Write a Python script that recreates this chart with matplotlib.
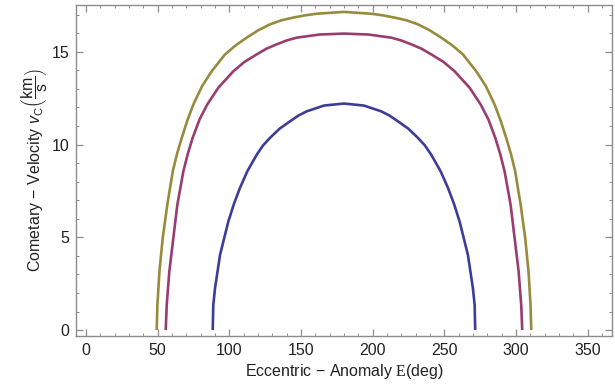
import numpy as np
import matplotlib.pyplot as plt
from matplotlib.ticker import MultipleLocator

# Eccentric anomaly (deg) and comet velocity (km/s)
E_blue = [88.4, 88.8, 90.0, 93.5, 99.3, 103.2, 107.4, 112.5, 119.1, 123.5,
          128.4, 135.0, 142.3, 148.0, 154.0, 166.0, 180.0, 194.0, 206.0,
          212.0, 217.7, 225.0, 231.6, 236.5, 240.9, 247.5, 252.6, 256.8,
          260.7, 266.5, 270.0, 271.2, 271.6]
v_blue = [0.0, 1.35, 2.25, 4.05, 5.85, 6.80, 7.66, 8.55, 9.45, 9.95,
          10.36, 10.85, 11.25, 11.55, 11.79, 12.10, 12.21, 12.10, 11.79,
          11.55, 11.25, 10.85, 10.36, 9.95, 9.45, 8.55, 7.66, 6.80,
          5.85, 4.05, 2.25, 1.35, 0.0]

E_magenta = [55.6, 56.3, 58.1, 60.9, 63.7, 67.9, 71.0, 74.4, 79.2, 84.6,
             92.3, 102.8, 110.5, 119.1, 126.0, 133.0, 140.0, 147.0, 163.0,
             180.0, 197.0, 213.0, 220.0, 227.0, 234.0, 240.9, 249.5, 257.2,
             267.7, 275.4, 280.8, 285.6, 289.0, 292.1, 296.3, 299.1, 301.9,
             303.7, 304.4]
v_magenta = [0.0, 1.35, 3.15, 4.95, 6.75, 8.55, 9.50, 10.36, 11.35, 12.16,
             13.06, 13.95, 14.45, 14.86, 15.17, 15.40, 15.61, 15.76, 15.93,
             15.98, 15.93, 15.76, 15.61, 15.40, 15.17, 14.86, 14.45, 13.95,
             13.06, 12.16, 11.35, 10.36, 9.50, 8.55, 6.75, 4.95, 3.15,
             1.35, 0.0]

E_gold = [49.3, 49.8, 51.2, 53.5, 56.7, 60.5, 63.5, 66.8, 70.7, 74.9, 81.0,
          87.7, 97.0, 104.5, 112.1, 120.0, 128.4, 136.5, 144.6, 152.5,
          161.0, 180.0, 199.0, 207.5, 215.4, 223.5, 231.6, 240.0, 247.9,
          255.5, 263.0, 272.3, 279.0, 285.1, 289.3, 293.2, 296.5, 299.5,
          303.3, 306.5, 308.8, 310.2, 310.7]
v_gold = [0.0, 1.35, 3.15, 4.95, 6.75, 8.55, 9.50, 10.36, 11.30, 12.16, 13.15,
          13.95, 14.86, 15.35, 15.76, 16.15, 16.48, 16.70, 16.84, 16.96,
          17.05, 17.15, 17.05, 16.96, 16.84, 16.70, 16.48, 16.15, 15.76,
          15.35, 14.86, 13.95, 13.15, 12.16, 11.30, 10.36, 9.50, 8.55,
          6.75, 4.95, 3.15, 1.35, 0.0]

colors = ['#3d3d99', '#993d71', '#998b3d']

plt.rcParams['font.family'] = 'Liberation Sans'
plt.rcParams['mathtext.fontset'] = 'custom'
plt.rcParams['mathtext.rm'] = 'Liberation Sans'
plt.rcParams['mathtext.it'] = 'Liberation Sans:italic'
plt.rcParams['mathtext.sf'] = 'Liberation Serif'

fig = plt.figure(figsize=(6.15, 3.86), dpi=100)
ax = fig.add_axes([0.1236, 0.130, 0.8714, 0.857])

for E, v, c in zip([E_blue, E_magenta, E_gold], [v_blue, v_magenta, v_gold], colors):
    ax.plot(E, v, color=c, lw=1.9, solid_capstyle='butt', solid_joinstyle='round')

ax.set_xlim(-7, 367)
ax.set_ylim(-0.31, 17.52)

ax.xaxis.set_major_locator(MultipleLocator(50))
ax.xaxis.set_minor_locator(MultipleLocator(10))
ax.yaxis.set_major_locator(MultipleLocator(5))
ax.yaxis.set_minor_locator(MultipleLocator(1))

frame = '#8c8c8c'
for s in ax.spines.values():
    s.set_color(frame)
    s.set_linewidth(1.0)
ax.tick_params(which='both', direction='in', top=True, right=True,
               color=frame, labelsize=11.5, labelcolor='#222222')
ax.tick_params(which='major', length=5, width=0.9, pad=5)
ax.tick_params(which='minor', length=2.5, width=0.7)

ax.set_xlabel(r'Eccentric $-$ Anomaly $\mathsf{E}$(deg)', fontsize=11.5,
              color='#222222', labelpad=3)
ax.set_ylabel(r'Cometary $-$ Velocity $v_\mathrm{C}\left(\dfrac{\mathrm{km}}{\mathrm{s}}\right)$',
              fontsize=11.5, color='#222222', labelpad=2)

fig.savefig('out.png', dpi=100)
